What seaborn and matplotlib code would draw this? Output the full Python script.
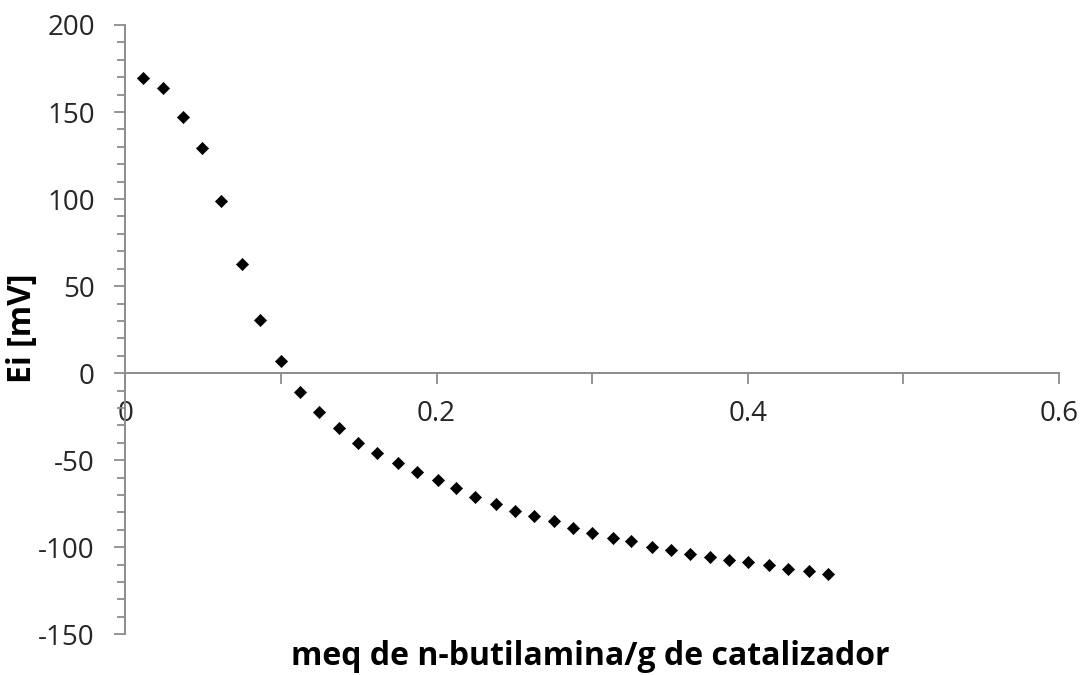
import matplotlib
matplotlib.use("Agg")
import matplotlib.pyplot as plt
import seaborn as sns
import pandas as pd
from matplotlib.ticker import MultipleLocator, FuncFormatter

# Data
meq_butilamina = [0.0114, 0.0239, 0.0371, 0.0493, 0.0615, 0.0748, 0.0868, 0.0998,
                  0.1120, 0.1242, 0.1372, 0.1494, 0.1616, 0.1754, 0.1876, 0.2008,
                  0.2128, 0.2248, 0.2383, 0.2504, 0.2624, 0.2757, 0.2877, 0.2999,
                  0.3131, 0.3253, 0.3388, 0.3510, 0.3630, 0.3760, 0.3882, 0.4004,
                  0.4137, 0.4259, 0.4392, 0.4513]
ei_mv = [169.4, 163.6, 147.0, 129.4, 99.1, 62.7, 30.6, 7.0,
         -10.6, -22.1, -31.3, -39.9, -46.0, -51.8, -56.7, -61.3,
         -66.2, -71.3, -75.0, -79.0, -82.0, -84.9, -88.9, -91.8,
         -94.8, -96.6, -99.7, -101.6, -103.7, -105.6, -107.5, -108.6,
         -110.3, -112.3, -113.4, -115.3]
x_label = "meq de n-butilamina/g de catalizador"
y_label = "Ei [mV]"

df = pd.DataFrame({"x": meq_butilamina, "y": ei_mv})

sns.set_theme(style="white")
plt.rcParams["font.family"] = ["Open Sans", "DejaVu Sans"]
plt.rcParams["axes.unicode_minus"] = False

fig = plt.figure(figsize=(10.91, 6.75), dpi=100)
ax = fig.add_axes([0.115, 0.0603, 0.8555, 0.9027])

sns.scatterplot(data=df, x="x", y="y", ax=ax, marker="D", s=38,
                color="black", edgecolor="black", linewidth=0.5, legend=False)

ax.set_xlim(0, 0.6)
ax.set_ylim(-150, 200)

axis_color = "#8c8c8c"
text_color = "#262626"
for side in ["top", "right"]:
    ax.spines[side].set_visible(False)
ax.spines["left"].set_position(("data", 0))
ax.spines["bottom"].set_position(("data", 0))
for side in ["left", "bottom"]:
    ax.spines[side].set_color(axis_color)
    ax.spines[side].set_linewidth(1.4)

ax.xaxis.set_major_locator(MultipleLocator(0.2))
ax.xaxis.set_minor_locator(MultipleLocator(0.1))
ax.yaxis.set_major_locator(MultipleLocator(50))
ax.yaxis.set_minor_locator(MultipleLocator(10))

ax.xaxis.set_major_formatter(FuncFormatter(lambda v, p: "0" if abs(v) < 1e-9 else f"{v:.1f}"))
ax.yaxis.set_major_formatter(FuncFormatter(lambda v, p: f"{v:.0f}"))

ax.tick_params(axis="x", which="both", direction="out", length=8, width=1.3,
               color=axis_color, bottom=True, pad=11, labelsize=20, labelcolor=text_color)
ax.tick_params(axis="y", which="major", direction="out", length=8, width=1.3,
               color=axis_color, left=True, pad=14, labelsize=20, labelcolor=text_color)
ax.tick_params(axis="y", which="minor", direction="out", length=6, width=1.3,
               color=axis_color, left=True)

ax.set_xlabel("")
ax.set_ylabel("")
ax.grid(False)

fig.text(0.541, 0.027, x_label, ha="center", va="center", fontsize=23,
         fontweight="bold", color="black")
fig.text(0.021, 0.514, y_label, ha="center", va="center", rotation=90,
         fontsize=23, fontweight="bold", color="black")

fig.savefig("out.png", dpi=100, facecolor="white")
